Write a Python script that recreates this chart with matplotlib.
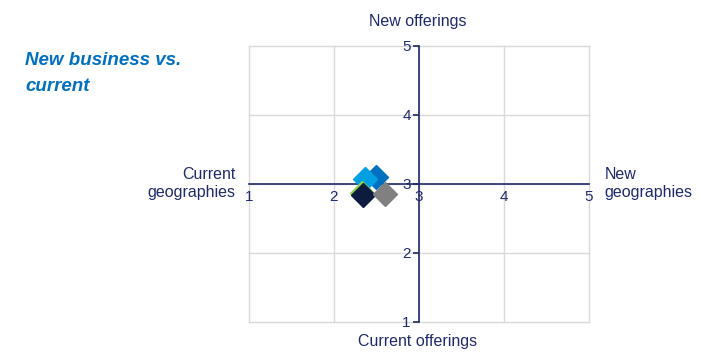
import matplotlib.pyplot as plt

plt.rcParams['font.family'] = ['Liberation Sans', 'DejaVu Sans']

# Scores per business (x = geographies, y = offerings)
series_names = ['Blue', 'Light blue', 'Green', 'Navy', 'Gray']
x_vals = [2.49, 2.37, 2.33, 2.34, 2.60]
y_vals = [3.10, 3.07, 2.87, 2.84, 2.85]
colors = ['#0070C0', '#00A0E3', '#92D050', '#0D1B3E', '#808080']
ticks = [1, 2, 3, 4, 5]

navy = '#1F2A6B'

fig = plt.figure(figsize=(7.13, 3.59), dpi=100)
ax = fig.add_axes([0.3492, 0.1031, 0.4769, 0.7688])

ax.set_xlim(1, 5)
ax.set_ylim(1, 5)

# light grid incl. outer box
for t in ticks:
    ax.axvline(t, color='#D9D9D9', lw=1, zorder=0, clip_on=False)
    ax.axhline(t, color='#D9D9D9', lw=1, zorder=0, clip_on=False)
for s in ax.spines.values():
    s.set_visible(False)

# cross axes through the middle
for side in ['left', 'bottom']:
    ax.spines[side].set_visible(True)
    ax.spines[side].set_position(('data', 3))
    ax.spines[side].set_color(navy)
    ax.spines[side].set_linewidth(1.2)

ax.set_xticks(ticks)
ax.set_yticks(ticks)
ax.tick_params(axis='x', length=0, colors=navy, labelsize=11, pad=4)
ax.tick_params(axis='y', length=4, width=1.2, colors=navy, labelsize=11, pad=2)

for x, y, c in zip(x_vals, y_vals, colors):
    ax.plot(x, y, marker='D', markersize=12, color=c, linestyle='none', zorder=3)

fig.text(0.586, 0.94, 'New offerings', ha='center', va='center', color=navy, fontsize=11.5)
fig.text(0.586, 0.05, 'Current offerings', ha='center', va='center', color=navy, fontsize=11.5)
fig.text(0.33, 0.488, 'Current\ngeographies', ha='right', va='center', color=navy, fontsize=11.5,
         multialignment='right', linespacing=1.25)
fig.text(0.848, 0.488, 'New\ngeographies', ha='left', va='center', color=navy, fontsize=11.5,
         linespacing=1.25)

fig.text(0.035, 0.795, 'New business vs.\ncurrent', ha='left', va='center', color='#0070C0',
         fontsize=13.5, fontweight='bold', fontstyle='italic', linespacing=1.75)

fig.savefig('out.png', dpi=100)
